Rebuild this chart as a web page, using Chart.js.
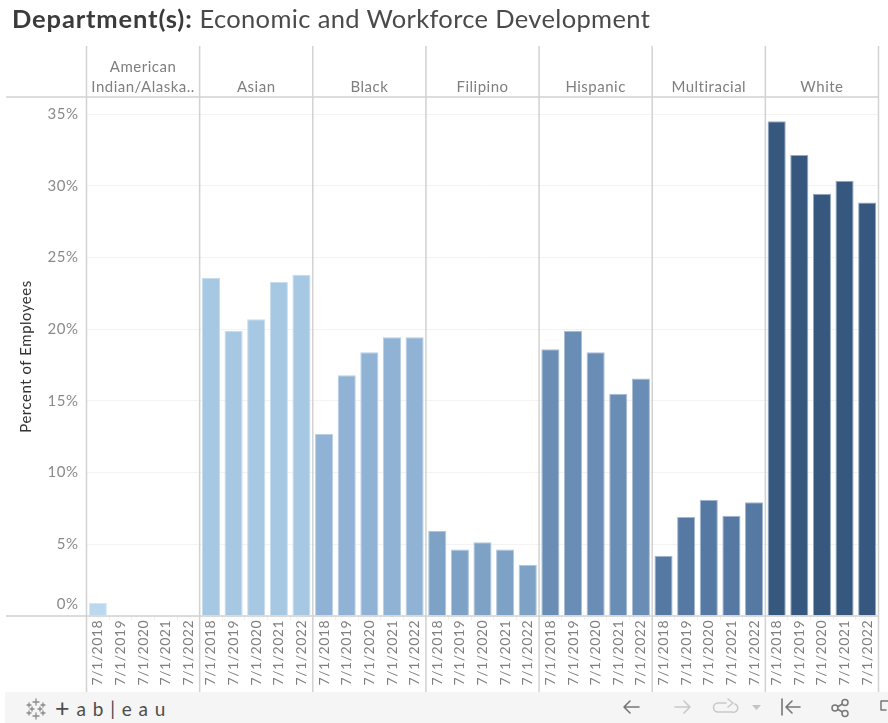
<!DOCTYPE html>
<html>
<head>
<meta charset="utf-8">
<title>Department(s): Economic and Workforce Development</title>
<script src="https://cdn.jsdelivr.net/npm/chart.js@4"></script>
<style>
html,body{margin:0;padding:0;background:#fff;width:888px;height:723px;overflow:hidden;font-family:Lato,"Open Sans",sans-serif}
#c{position:absolute;left:0;top:0}
#title{position:absolute;left:12px;top:1px;font-size:25.5px;line-height:34px;color:#4a4a4a;white-space:nowrap;letter-spacing:.35px}
#title b{font-weight:700;color:#3b3b3b;letter-spacing:.85px}
#bar{position:absolute;left:5px;right:0;top:692px;height:31px;background:#f5f5f5}
#logo{position:absolute;left:50px;top:3px;font-size:19px;line-height:25px;color:#4d4d4d;letter-spacing:6.8px;white-space:nowrap}
#logo span{font-size:25px;line-height:25px;letter-spacing:7px;vertical-align:-1px}
#bar svg{position:absolute;left:-5px;top:0}
</style>
</head>
<body>
<canvas id="c" width="888" height="723"></canvas>
<div id="title"><b>Department(s):</b> Economic and Workforce Development</div>
<div id="bar">
<svg width="888" height="31" fill="none" stroke-linecap="round" stroke-linejoin="round">
  <g stroke="#8a8a8a" stroke-width="1.3">
    <path d="M36 7v6M33 10h6M36 21v6M33 24h6M29 11v4M27 13h4M43 11v4M41 13h4M29 19v4M27 21h4M43 19v4M41 21h4M32 15v4M30 17h4M40 15v4M38 17h4"/>
  </g>
  <g transform="translate(0,-1)">
  <g stroke="#777" stroke-width="1.6"><path d="M639 16h-15M630 10l-6 6 6 6"/></g>
  <g stroke="#c9c9c9" stroke-width="1.600"><path d="M675 16h15M684 10l6 6-6 6"/></g>
  <g stroke="#c9c9c9" stroke-width="1.600"><path d="M726 12h-8a4 4 0 0 0 0 9h14a4 4 0 0 0 3-8M728 8l5 4-5 4"/></g>
  <path d="M752 14h9l-4.500 5z" fill="#c4c4c4"/>
  <g stroke="#777" stroke-width="1.600"><path d="M782 8v16M800 16h-14M792 10l-6 6 6 6"/></g>
  </g>
  <g stroke="#777" stroke-width="1.500"><circle cx="835" cy="16" r="3"/><circle cx="845" cy="10.500" r="3"/><circle cx="845" cy="21.500" r="3"/><path d="M838 14.500l4.500-2.500M838 17.500l4.500 2.500"/></g>
  <g stroke="#777" stroke-width="1.500"><path d="M893 9h-12v9h5"/></g>
</svg>
<div id="logo"><span>+</span>ab|eau</div>
</div>
<script>
const years = ["7/1/2018","7/1/2019","7/1/2020","7/1/2021","7/1/2022"];
const groupLabels = [["American","Indian/Alaska.."],"Asian","Black","Filipino","Hispanic","Multiracial","White"];
const americanIndian = [0.9,null,null,null,null];
const asian = [23.6,19.9,20.7,23.3,23.8];
const black = [12.7,16.8,18.4,19.45,19.45];
const filipino = [5.93,4.63,5.14,4.63,3.58];
const hispanic = [18.6,19.9,18.4,15.5,16.56];
const multiracial = [4.2,6.9,8.1,7.0,7.93];
const white = [34.5,32.15,29.45,30.35,28.85];
const yTicks = [0,5,10,15,20,25,30,35];
const groupColors = ["#bcd8ee","#a6c8e3","#8fb2d5","#7ea2c5","#6a8db6","#5679a4","#36587f"];
const groupBorders = ["#d3e6f4","#c6dcee","#b9cfe5","#b0c6dc","#a9bed6","#a3b8d0","#96aac2"];

const series = [americanIndian,asian,black,filipino,hispanic,multiracial,white];
const labels = series.flatMap(() => years);
const values = series.flat();
const fills = series.flatMap((s,i) => s.map(() => groupColors[i]));
const borders = series.flatMap((s,i) => s.map(() => groupBorders[i]));

const tickFont = {family:'Lato, "Open Sans", sans-serif', size:15, lineHeight:1.6};
const frame = {
  id:'frame',
  beforeDraw(chart){ chart.ctx.letterSpacing = '0.5px'; },
  afterDatasetsDraw(chart){
    const {ctx, chartArea:a} = chart;
    ctx.save();
    ctx.strokeStyle = '#d2d2d2';
    ctx.lineWidth = 1.5;
    ctx.beginPath();
    ctx.moveTo(6,a.top); ctx.lineTo(a.right,a.top);
    ctx.moveTo(6,a.bottom); ctx.lineTo(a.right,a.bottom);
    for(let g=0;g<=series.length;g++){
      const px = a.left + (a.right-a.left)*g/series.length;
      ctx.moveTo(px,46); ctx.lineTo(px,692);
    }
    ctx.stroke();
    ctx.restore();
  }
};

new Chart(document.getElementById('c'),{
  type:'bar',
  data:{labels,datasets:[{label:'Percent of Employees',data:values,backgroundColor:fills,borderColor:borders,borderWidth:1,barPercentage:0.8,categoryPercentage:1}]},
  plugins:[frame],
  options:{
    responsive:false,animation:false,
    layout:{padding:{left:0,right:9.5,top:46,bottom:31}},
    plugins:{legend:{display:false},tooltip:{enabled:false},title:{display:false}},
    scales:{
      x:{
        type:'category',position:'bottom',offset:true,
        afterFit(s){s.height=76;},
        border:{display:false},
        grid:{offset:true,drawOnChartArea:false,drawTicks:true,tickLength:4,color:'#eeeeee'},
        ticks:{autoSkip:false,minRotation:90,maxRotation:90,padding:0,color:'#7f7f7f',font:{family:tickFont.family,size:14}}
      },
      top:{
        type:'category',position:'top',offset:true,labels:groupLabels,
        afterFit(s){s.height=51;},
        border:{display:false},
        grid:{display:false},
        ticks:{autoSkip:false,maxRotation:0,minRotation:0,padding:-8,color:'#7f7f7f',font:{family:tickFont.family,size:15,lineHeight:1.33}}
      },
      y:{
        type:'linear',min:0,max:36.2,
        afterFit(s){s.width=86.5;},
        border:{display:false},
        grid:{drawTicks:false,color:'#f3f3f3',lineWidth:1},
        afterBuildTicks(s){s.ticks=yTicks.map(v=>({value:v}));},
        ticks:{includeBounds:false,padding:8,color:'#8a8a8a',font:tickFont,
          callback:v=>v===0?[v+'%','']:v+'%'},
        title:{display:true,text:'Percent of Employees',color:'#333333',padding:{top:17,bottom:0},font:{family:tickFont.family,size:15,lineHeight:1.2}}
      }
    }
  }
});
</script>
</body>
</html>
